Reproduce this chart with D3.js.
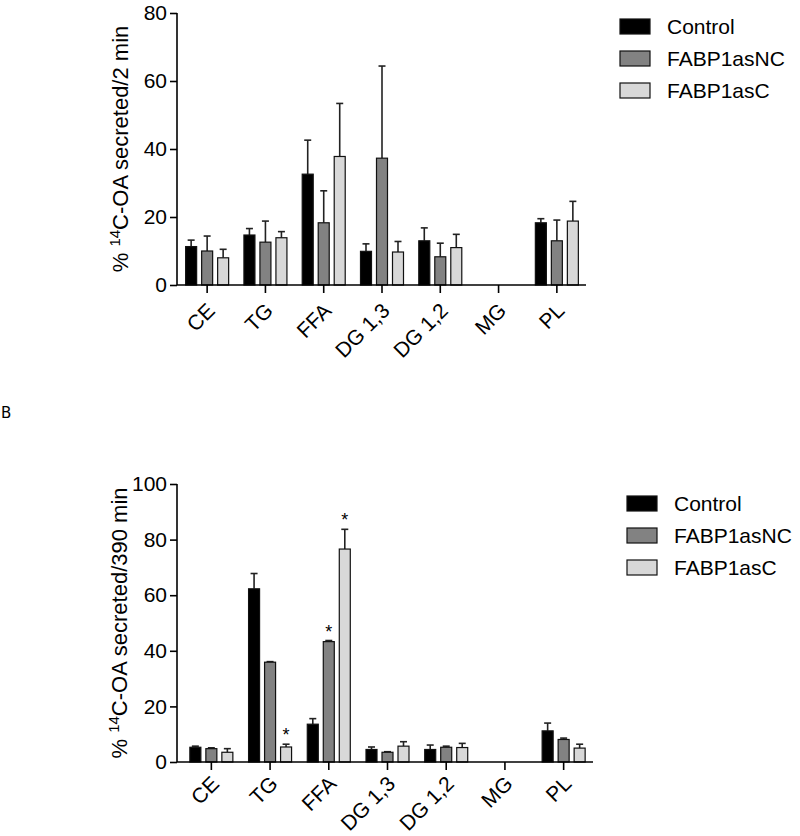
<!DOCTYPE html>
<html>
<head>
<meta charset="utf-8">
<script src="https://cdn.jsdelivr.net/npm/d3@7/dist/d3.min.js"></script>
<style>
  body { margin: 0; background: #fff; }
  text { font-family: "Liberation Sans", Arial, sans-serif; fill: #000; }
</style>
</head>
<body>
<svg id="fig" width="800" height="836"></svg>
<script>
// ---------------- data ----------------
const categories = ["CE", "TG", "FFA", "DG 1,3", "DG 1,2", "MG", "PL"]
const series = ["Control", "FABP1asNC", "FABP1asC"]
const colors = ["#000000", "#828282", "#d8d8d8"]

// panel A : 2 min
const aControl = [11.3, 14.7, 32.6, 9.9, 13.0, 0, 18.3]
const aControlSem = [1.9, 1.9, 10.0, 2.2, 3.8, 0, 1.2]
const aNC = [10.0, 12.6, 18.3, 37.3, 8.3, 0, 13.0]
const aNCSem = [4.4, 6.2, 9.4, 27.1, 4.0, 0, 6.1]
const aC = [8.0, 13.9, 37.8, 9.7, 11.0, 0, 18.8]
const aCSem = [2.5, 1.8, 15.6, 3.1, 3.9, 0, 5.8]
const aTicks = [0, 20, 40, 60, 80]

// panel B : 390 min
const bControl = [5.3, 62.3, 13.6, 4.5, 4.5, 0, 11.2]
const bControlSem = [0.4, 5.5, 2.0, 0.9, 1.6, 0, 2.8]
const bNC = [4.8, 35.9, 43.3, 3.5, 5.3, 0, 8.1]
const bNCSem = [0.3, 0.2, 0.4, 0.2, 0.4, 0, 0.5]
const bC = [3.5, 5.4, 76.6, 5.7, 5.2, 0, 5.0]
const bCSem = [1.3, 1.0, 7.1, 1.6, 1.5, 0, 1.4]
const bStars = [[2, "TG"], [1, "FFA"], [2, "FFA"]]   // [series index, category]
const bTicks = [0, 20, 40, 60, 80, 100]

const svg = d3.select("#fig")

//------------------- one panel --------------------
function panel(cfg) {
    var g = svg.append("g")
    var x = d3.scaleBand().domain(categories).range([cfg.b0, cfg.b1])
    var xs = d3.scalePoint().domain(d3.range(series.length)).range([-16, 16])
    var y = d3.scaleLinear().domain([0, cfg.max]).range([cfg.yBottom, cfg.yTop])
    var barW = 11

    for (var s = 0; s < series.length; s++) {
        var vals = cfg.values[s], sems = cfg.sems[s]
        var rows = categories.map(function (c, i) { return { c: c, v: vals[i], e: sems[i] } })

        // error bars (upper only)
        g.selectAll(null).data(rows.filter(function (d) { return d.v > 0 })).enter()
            .append("line")
            .attr("x1", function (d) { return x(d.c) + x.bandwidth() / 2 + xs(s) })
            .attr("x2", function (d) { return x(d.c) + x.bandwidth() / 2 + xs(s) })
            .attr("y1", function (d) { return y(d.v) })
            .attr("y2", function (d) { return y(d.v + d.e) })
            .attr("stroke", "#222").attr("stroke-width", 1.6)
        g.selectAll(null).data(rows.filter(function (d) { return d.v > 0 })).enter()
            .append("line")
            .attr("x1", function (d) { return x(d.c) + x.bandwidth() / 2 + xs(s) - 3.5 })
            .attr("x2", function (d) { return x(d.c) + x.bandwidth() / 2 + xs(s) + 3.5 })
            .attr("y1", function (d) { return y(d.v + d.e) })
            .attr("y2", function (d) { return y(d.v + d.e) })
            .attr("stroke", "#222").attr("stroke-width", 1.6)

        g.selectAll(null).data(rows).enter()
            .append("rect")
            .attr("x", function (d) { return x(d.c) + x.bandwidth() / 2 + xs(s) - barW / 2 })
            .attr("y", function (d) { return y(d.v) })
            .attr("width", barW)
            .attr("height", function (d) { return y(0) - y(d.v) })
            .attr("fill", colors[s])
            .attr("stroke", "#111").attr("stroke-width", 1.2)
    }

    // significance stars
    if (cfg.stars) {
        g.selectAll(null).data(cfg.stars).enter()
            .append("text")
            .attr("x", function (d) { return x(d[1]) + x.bandwidth() / 2 + xs(d[0]) })
            .attr("y", function (d) {
                var i = categories.indexOf(d[1])
                return y(cfg.values[d[0]][i] + cfg.sems[d[0]][i]) - 3
            })
            .attr("text-anchor", "middle")
            .style("font-size", "18px")
            .text("*")
    }

    // y axis
    var yAx = g.append("g").attr("transform", "translate(" + cfg.x0 + ",0)")
        .call(d3.axisLeft(y).tickValues(cfg.ticks).tickSize(7).tickPadding(3).tickFormat(d3.format("d")))
    yAx.select(".domain").attr("stroke-width", 1.6).attr("d", "M0," + cfg.yTop + "V" + cfg.yBottom)
    yAx.selectAll(".tick line").attr("stroke-width", 1.6)
    yAx.selectAll(".tick text").style("font-size", "21px").style("font-family", "Liberation Sans, Arial, sans-serif")

    // x axis
    var xAx = g.append("g").attr("transform", "translate(0," + cfg.yBottom + ")")
        .call(d3.axisBottom(x).tickSize(8).tickSizeOuter(0).tickFormat(""))
    xAx.select(".domain").attr("stroke-width", 1.6).attr("d", "M" + cfg.x0 + ",0H" + cfg.b1)
    xAx.selectAll(".tick line").attr("stroke-width", 1.6)

    g.selectAll(null).data(categories).enter()
        .append("text")
        .attr("transform", function (c) {
            return "translate(" + (x(c) + x.bandwidth() / 2 + 9) + "," + (cfg.yBottom + cfg.labelDy) + ") rotate(-45)"
        })
        .attr("text-anchor", "end")
        .style("font-size", "21px")
        .text(function (c) { return c })

    // y label
    var lab = g.append("text")
        .attr("transform", "translate(" + cfg.labelX + "," + ((cfg.yTop + cfg.yBottom) / 2) + ") rotate(-90)")
        .attr("text-anchor", "middle")
        .style("font-size", "22px")
    lab.append("tspan").text("% ")
    lab.append("tspan").text("14").style("font-size", "15px").attr("dy", -8)
    lab.append("tspan").text("C-OA secreted/" + cfg.time).attr("dy", 8)

    // legend
    var lg = g.append("g").attr("transform", "translate(" + cfg.legX + "," + cfg.legY + ")")
    series.forEach(function (name, i) {
        lg.append("rect").attr("x", 0).attr("y", i * 32).attr("width", 30).attr("height", 15)
            .attr("fill", colors[i]).attr("stroke", "#111").attr("stroke-width", 1.2)
        lg.append("text").attr("x", 47).attr("y", i * 32 + 15).style("font-size", "21px").text(name)
    })
}

panel({
    values: [aControl, aNC, aC], sems: [aControlSem, aNCSem, aCSem],
    max: 80, ticks: aTicks, x0: 177, b0: 178, b1: 586, yTop: 13, yBottom: 285,
    labelDy: 27, labelX: 128, time: "2 min", legX: 620, legY: 19
})

panel({
    values: [bControl, bNC, bC], sems: [bControlSem, bNCSem, bCSem], stars: bStars,
    max: 100, ticks: bTicks, x0: 177, b0: 182, b1: 593, yTop: 484, yBottom: 762,
    labelDy: 23, labelX: 127, time: "390 min", legX: 627, legY: 496
})

svg.append("text").attr("x", 1).attr("y", 418).style("font-size", "15px").style("font-family", "DejaVu Sans, sans-serif").text("B")
</script>
</body>
</html>
